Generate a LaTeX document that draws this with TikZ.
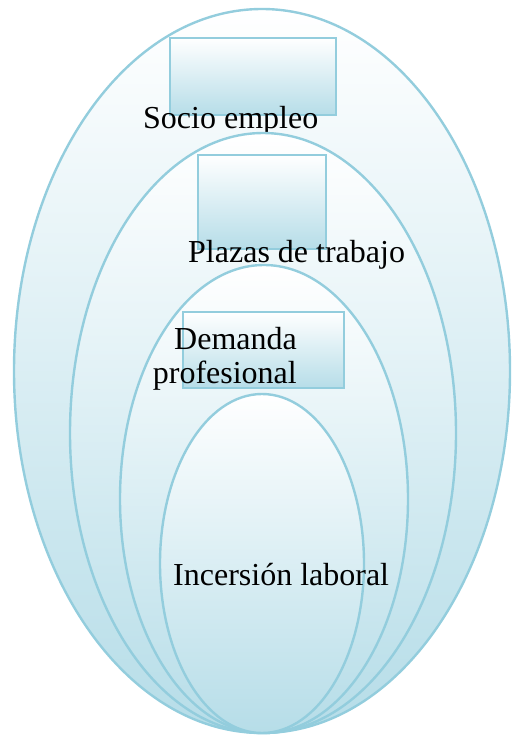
\documentclass[tikz,border=0pt]{standalone}
\usepackage{fontspec}
\setmainfont{Liberation Serif}
\usetikzlibrary{shapes.geometric}
\definecolor{edgeblue}{HTML}{93CDDD}
\definecolor{fillblue}{HTML}{B6DDE8}
\tikzset{
  ring/.style={ellipse, draw=edgeblue, line width=2.4pt, inner sep=0pt, top color=white, bottom color=fillblue},
  tag/.style={rectangle, draw=edgeblue, line width=2.4pt, inner sep=0pt, top color=white, bottom color=fillblue},
  lbl/.style={inner sep=0pt, font=\fontsize{32}{34}\selectfont}
}
\begin{document}
\begin{tikzpicture}[x=1pt,y=-1pt]
\useasboundingbox (0,0) rectangle (519,739);
\node[ring, minimum width=496pt, minimum height=724pt] (e1) at (262,371) {};
\node[tag, minimum width=166pt, minimum height=77pt] (r1) at (253,76.5) {};
\node[lbl, anchor=base west] (t1) at (143,128) {Socio empleo};
\node[ring, minimum width=386pt, minimum height=600pt] (e2) at (263,433) {};
\node[tag, minimum width=128pt, minimum height=94pt] (r2) at (262,202) {};
\node[lbl, anchor=base west] (t2) at (188,262) {Plazas de trabajo};
\node[ring, minimum width=288pt, minimum height=468pt] (e3) at (264,499) {};
\node[tag, minimum width=161pt, minimum height=76pt] (r3) at (263.5,350) {};
\node[lbl, anchor=base east] (t3a) at (297,349) {Demanda};
\node[lbl, anchor=base east] (t3b) at (297,383) {profesional};
\node[ring, minimum width=204pt, minimum height=339pt] (e4) at (262,563.5) {};
\node[lbl, anchor=base west] (t4) at (173,585) {Incersión laboral};
\end{tikzpicture}
\end{document}
